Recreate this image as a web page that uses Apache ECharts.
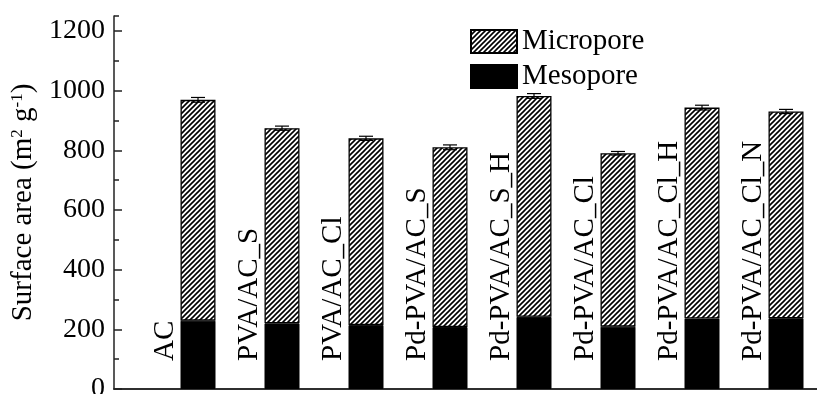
<!DOCTYPE html>
<html><head><meta charset="utf-8">
<script src="https://cdn.jsdelivr.net/npm/echarts@6/dist/echarts.min.js"></script>
<style>html,body{margin:0;padding:0;background:#fff}#c{width:817px;height:394px}</style>
</head><body><div id="c"></div>
<script>
const categories = ['AC', 'PVA/AC_S', 'PVA/AC_Cl', 'Pd-PVA/AC_S', 'Pd-PVA/AC_S_H', 'Pd-PVA/AC_Cl', 'Pd-PVA/AC_Cl_H', 'Pd-PVA/AC_Cl_N'];
const mesopore = [229, 220, 214, 208, 242, 209, 236, 237];
const micropore = [740, 654, 626, 602, 740, 581, 707, 693];
const errors = [8, 7, 7, 8, 8, 6, 8, 7];
const yTicks = [0, 200, 400, 600, 800, 1000, 1200];

const FONT = "'Liberation Serif', 'Times New Roman', serif";
// empty slot before the first and after the last sample, as in the figure
const xSlots = [''].concat(categories, ['']);
const pad = (arr) => [null].concat(arr, [null]);

function hatch() {
  const s = 5;
  const c = document.createElement('canvas');
  c.width = s; c.height = s;
  const ctx = c.getContext('2d');
  ctx.fillStyle = '#fff';
  ctx.fillRect(0, 0, s, s);
  ctx.strokeStyle = '#000';
  ctx.lineWidth = 1.6;
  ctx.beginPath();
  for (const k of [-s, 0, s]) {
    ctx.moveTo(k - 1, s + 1);
    ctx.lineTo(k + s + 1, -1);
  }
  ctx.stroke();
  return c;
}

const chart = echarts.init(document.getElementById('c'), null, {renderer: 'canvas'});
const option = {
  animation: false,
  backgroundColor: '#fff',
  grid: {left: 114, top: 16, bottom: 5, right: -53, containLabel: false, outerBoundsMode: 'none'},
  legend: {
    orient: 'vertical', left: 465, top: 22, itemWidth: 46, itemHeight: 23, itemGap: 6, icon: 'rect',
    data: ['Micropore', 'Mesopore'],
    textStyle: {fontFamily: FONT, fontSize: 29, color: '#000'}
  },
  xAxis: [
    {type: 'category', data: xSlots, boundaryGap: false, position: 'bottom',
     axisLine: {show: true, lineStyle: {color: '#222', width: 1.5}},
     axisTick: {show: false}, axisLabel: {show: false}, splitLine: {show: false}},
    {type: 'category', data: xSlots, boundaryGap: false, position: 'top',
     axisLine: {show: true, lineStyle: {color: '#222', width: 1.5}},
     axisTick: {show: false}, axisLabel: {show: false}, splitLine: {show: false}}
  ],
  yAxis: [
    {type: 'value', min: 0, max: 1250, interval: 200, position: 'left',
     name: 'Surface area (m{sup|2} g{sup|-1})', nameLocation: 'middle', nameGap: 60, nameRotate: 90,
     nameTextStyle: {fontFamily: FONT, fontSize: 29, color: '#000',
       rich: {sup: {fontFamily: FONT, fontSize: 17, color: '#000', verticalAlign: 'top'}}},
     axisLine: {show: true, lineStyle: {color: '#222', width: 1.5}},
     axisTick: {show: true, inside: true, length: 8, customValues: yTicks, lineStyle: {color: '#222', width: 1.5}},
     axisLabel: {fontFamily: FONT, fontSize: 28, color: '#000', margin: 9, customValues: yTicks,
       formatter: (v) => String(v)},
     splitLine: {show: false}},
    {type: 'value', min: 0, max: 1250, interval: 100, position: 'left',
     axisLine: {show: false},
     axisTick: {show: true, inside: true, length: 5, lineStyle: {color: '#222', width: 1.5}},
     axisLabel: {show: false}, splitLine: {show: false}}
  ],
  series: [
    {name: 'Mesopore', type: 'bar', stack: 'total', barWidth: 35,
     itemStyle: {color: '#000', borderColor: '#000', borderWidth: 1},
     data: pad(mesopore),
     label: {show: true, position: [-15, '100%'], rotate: 90, align: 'left', verticalAlign: 'middle',
       padding: [0, 0, 0, 28], fontFamily: FONT, fontSize: 29, color: '#000',
       formatter: (p) => p.name}
    },
    {name: 'Micropore', type: 'bar', stack: 'total', barWidth: 35,
     itemStyle: {color: {image: hatch(), repeat: 'repeat'}, borderColor: '#000', borderWidth: 1.3},
     data: pad(micropore)
    },
    {name: 'err', type: 'custom', z: 10,
     data: categories.map((c, i) => [c, mesopore[i] + micropore[i], errors[i]]),
     renderItem: function (params, api) {
       const x = api.value(0), top = api.value(1), e = api.value(2);
       const hi = api.coord([x, top + e]);
       const lo = api.coord([x, top - e]);
       const hw = 7;
       const st = {stroke: '#000', lineWidth: 1.2};
       return {type: 'group', children: [
         {type: 'line', shape: {x1: hi[0], y1: hi[1], x2: lo[0], y2: lo[1]}, style: st},
         {type: 'line', shape: {x1: hi[0] - hw, y1: hi[1], x2: hi[0] + hw, y2: hi[1]}, style: st},
         {type: 'line', shape: {x1: lo[0] - hw, y1: lo[1], x2: lo[0] + hw, y2: lo[1]}, style: st}
       ]};
     }
    }
  ]
};
chart.setOption(option);
</script>
</body></html>
